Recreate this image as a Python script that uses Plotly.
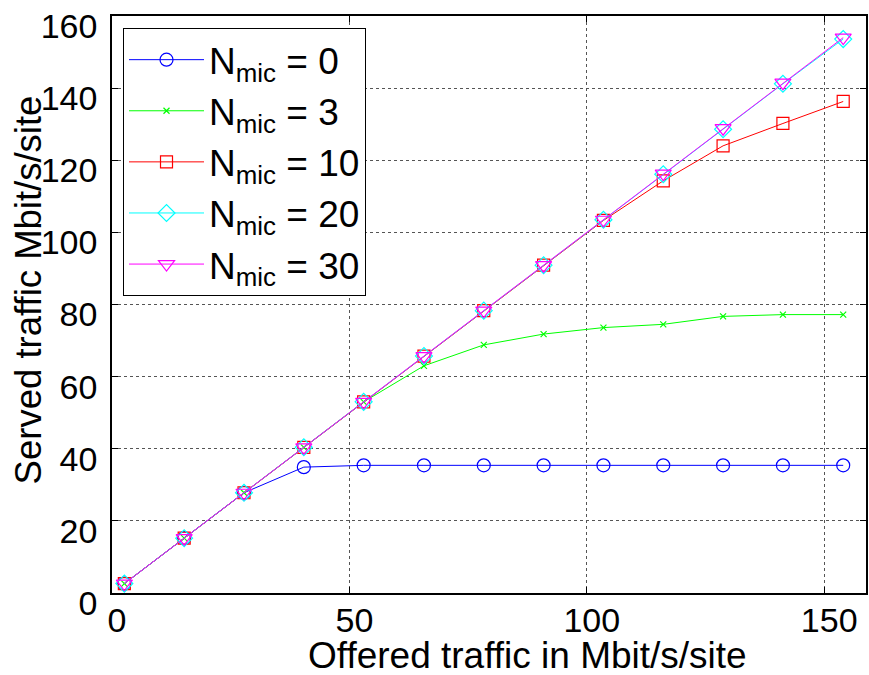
import plotly.graph_objects as go

offered = [2.6, 15.2, 27.8, 40.4, 53.0, 65.7, 78.3, 90.9, 103.5, 116.1, 128.7, 141.3, 154.0]
served_n0 = [2.6, 15.2, 27.8, 34.9, 35.4, 35.4, 35.4, 35.4, 35.4, 35.4, 35.4, 35.4, 35.4]
served_n3 = [2.6, 15.2, 27.8, 40.4, 53.0, 63.0, 68.8, 71.8, 73.6, 74.5, 76.7, 77.2, 77.2]
served_n10 = [2.6, 15.2, 27.8, 40.4, 53.0, 65.7, 78.3, 90.9, 103.3, 114.3, 124.0, 130.2, 136.3]
served_n20 = [2.6, 15.2, 27.8, 40.4, 53.0, 65.7, 78.3, 90.9, 103.5, 116.1, 128.6, 141.2, 153.6]
served_n30 = [2.6, 15.2, 27.8, 40.4, 53.0, 65.7, 78.3, 90.9, 103.5, 116.3, 128.9, 141.5, 154.0]
labels = ["N<sub>mic</sub> = 0", "N<sub>mic</sub> = 3", "N<sub>mic</sub> = 10",
          "N<sub>mic</sub> = 20", "N<sub>mic</sub> = 30"]
x_ticks = [0, 50, 100, 150]
y_ticks = [0, 20, 40, 60, 80, 100, 120, 140, 160]
x_title = "Offered traffic in Mbit/s/site"
y_title = "Served traffic Mbit/s/site"

colors = ["#0000FF", "#00FF00", "#FF0000", "#00FFFF", "#FF00FF"]
symbols = ["circle-open", "x-thin-open", "square-open", "diamond-open", "triangle-down-open"]
sizes = [13, 6, 12, 13, 14]

series = [served_n0, served_n3, served_n10, served_n20, served_n30]
FONT = "Liberation Sans, Arial, sans-serif"

fig = go.Figure()
for ys, lab, col, sym, sz in zip(series, labels, colors, symbols, sizes):
    fig.add_trace(go.Scatter(
        x=offered, y=ys, name=lab, mode="lines+markers",
        line=dict(color=col, width=1),
        marker=dict(symbol=sym, size=sz, color=col, line=dict(color=col, width=1.2)),
    ))

axis_common = dict(
    showline=True, linecolor="black", linewidth=1.5, mirror="ticks",
    ticks="inside", ticklen=6, tickcolor="black", tickwidth=1,
    showgrid=True, gridcolor="#555555", griddash="dot", gridwidth=1,
    zeroline=False, automargin=False, ticklabeloverflow="allow",
    tickfont=dict(family=FONT, size=34, color="black"),
)

fig.update_xaxes(range=[0, 158.8], tickvals=x_ticks, ticklabelstandoff=-4,
                 ticklabelshift=5, **axis_common)
fig.update_yaxes(range=[0, 160], tickvals=y_ticks, ticklabelstandoff=6,
                 ticklabelshift=10, **axis_common)

fig.add_annotation(text=x_title, xref="paper", yref="paper", x=0.551, y=-0.109,
                   xanchor="center", yanchor="middle", showarrow=False,
                   font=dict(family=FONT, size=37, color="black"))
fig.add_annotation(text=y_title, xref="paper", yref="paper", x=-0.111, y=0.525,
                   xanchor="center", yanchor="middle", showarrow=False, textangle=-90,
                   font=dict(family=FONT, size=36.5, color="black"))

fig.update_layout(
    width=869, height=675,
    margin=dict(l=112, r=3, t=16, b=82),
    paper_bgcolor="white", plot_bgcolor="white",
    font=dict(family=FONT, color="black"),
    legend=dict(x=0.0146, y=0.979, xanchor="left", yanchor="top",
                bgcolor="white", bordercolor="black", borderwidth=1,
                font=dict(family=FONT, size=37, color="black"),
                tracegroupgap=0, itemwidth=75),
    showlegend=True,
)

fig.write_html("out.html", config={"displayModeBar": False},
               post_script="document.body.style.margin='0';document.body.style.overflow='hidden';")
